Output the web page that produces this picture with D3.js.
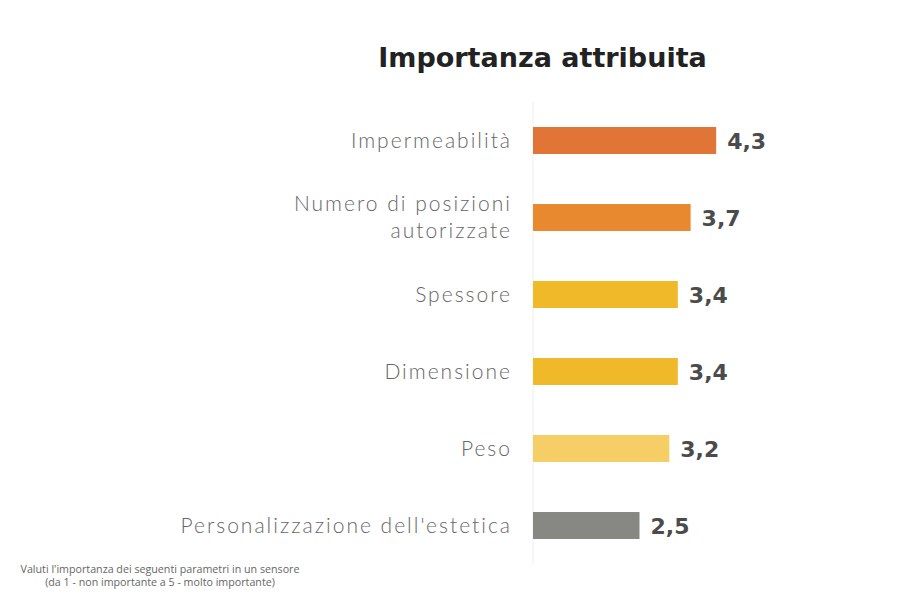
<!DOCTYPE html>
<html>
<head>
<meta charset="utf-8">
<script src="https://cdn.jsdelivr.net/npm/d3@7"></script>
<style>
  body { margin: 0; background: #fff; }
</style>
</head>
<body>
<div id="chart"></div>
<script>
// data
var categories = ["Impermeabilità", "Numero di posizioni\nautorizzate", "Spessore", "Dimensione", "Peso", "Personalizzazione dell'estetica"];
var values = [4.3, 3.7, 3.4, 3.4, 3.2, 2.5];
var barColors = ["#E07537", "#E8892F", "#F0B92A", "#F0B92A", "#F6CE66", "#878783"];
var titleText = "Importanza attribuita";
var footnote = ["Valuti l'importanza dei seguenti parametri in un sensore", "(da 1 - non importante a 5 - molto importante)"];

var width = 900, height = 600;
var margin = { top: 102, left: 533, bottom: 36 };

var svg = d3.select("#chart").append("svg")
    .attr("width", width)
    .attr("height", height);

var x = d3.scaleLinear()
    .domain([0, 5])
    .range([margin.left, margin.left + 5 * 42.6]);

var y = d3.scaleBand()
    .domain(categories)
    .range([margin.top, height - margin.bottom])
    .paddingInner(0.65)
    .paddingOuter(0.325);

// title
svg.append("text")
    .attr("x", 542.5)
    .attr("y", 67)
    .attr("text-anchor", "middle")
    .style("font-family", "'DejaVu Sans', sans-serif")
    .style("font-weight", "bold")
    .style("font-size", "27px")
    .style("fill", "#222")
    .text(titleText);

// vertical axis line
svg.append("line")
    .attr("x1", x(0)).attr("x2", x(0))
    .attr("y1", margin.top).attr("y2", height - margin.bottom)
    .attr("stroke", "#eeeeee")
    .attr("stroke-width", 1);

var rows = svg.selectAll("g.row")
    .data(categories)
    .enter().append("g")
    .attr("class", "row");

rows.append("rect")
    .attr("x", x(0))
    .attr("y", d => y(d))
    .attr("width", (d, i) => x(values[i]) - x(0))
    .attr("height", y.bandwidth())
    .style("fill", (d, i) => barColors[i]);

// category labels (may be two lines)
rows.append("text")
    .attr("text-anchor", "end")
    .style("font-family", "Lato, sans-serif")
    .style("font-weight", 300)
    .style("font-size", "21px")
    .style("letter-spacing", "2px")
    .style("fill", "#666")
    .each(function (d) {
        var lines = d.split("\n");
        var cy = y(d) + y.bandwidth() / 2 + 7;
        var start = cy - (lines.length - 1) * 27 / 2;
        d3.select(this).selectAll("tspan")
            .data(lines)
            .enter().append("tspan")
            .attr("x", 512)
            .attr("y", (l, j) => start + j * 27)
            .text(l => l);
    });

// value labels
rows.append("text")
    .attr("x", (d, i) => x(values[i]) + 11)
    .attr("y", d => y(d) + y.bandwidth() / 2 + 8)
    .style("font-family", "'DejaVu Sans', sans-serif")
    .style("font-weight", "bold")
    .style("font-size", "22px")
    .style("fill", "#4b4b4b")
    .text((d, i) => d3.format(".1f")(values[i]).replace(".", ","));

// footnote
svg.append("text")
    .attr("text-anchor", "middle")
    .style("font-family", "'Open Sans', sans-serif")
    .style("font-size", "10.7px")
    .style("fill", "#666")
    .selectAll("tspan")
    .data(footnote)
    .enter().append("tspan")
    .attr("x", 160)
    .attr("y", (d, i) => 573 + i * 13)
    .text(d => d);
</script>
</body>
</html>
